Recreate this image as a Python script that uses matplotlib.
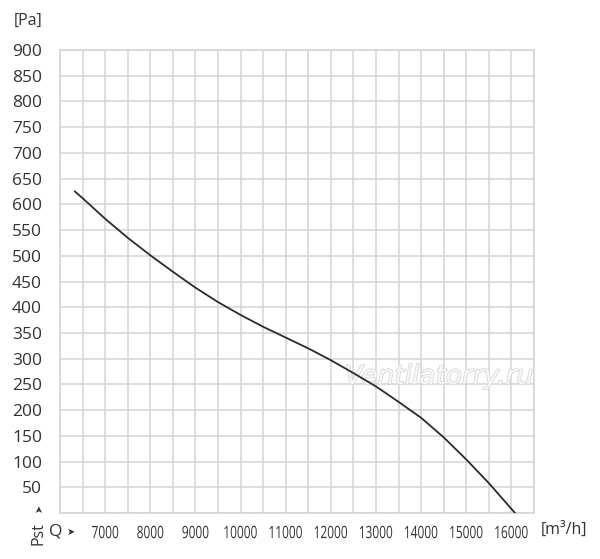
import matplotlib
matplotlib.use('Agg')
import matplotlib.pyplot as plt
import matplotlib.patheffects as pe
from matplotlib.textpath import TextPath
from matplotlib.patches import PathPatch
from matplotlib.font_manager import FontProperties
from matplotlib.transforms import Affine2D

# Точки кривой Pst(Q)
flow = [6330, 6500, 7000, 7500, 8000, 8500, 9000, 9500, 10000, 10500, 11000,
        11500, 12000, 12500, 13000, 13500, 14000, 14500, 15000, 15500, 16000, 16080]
pressure = [625, 612, 572, 535, 501, 469, 438, 410, 385, 362, 341,
            320, 297, 272, 246, 216, 185, 147, 104, 58, 8, 0]

x_labels = [7000, 8000, 9000, 10000, 11000, 12000, 13000, 14000, 15000, 16000]
y_labels = [50, 100, 150, 200, 250, 300, 350, 400, 450, 500,
            550, 600, 650, 700, 750, 800, 850, 900]

TXT = '#333333'
FONT = ['Open Sans', 'DejaVu Sans']


def narrow_label(fig, x, y, s, em=17.0, sx=0.7):
    """Рисует узкую (сжатую по горизонтали) подпись с центром в (x, y) в пикселях."""
    tp = TextPath((0, 0), s, size=em, prop=FontProperties(family='Open Sans'))
    ext = tp.get_extents()
    cx = (ext.x0 + ext.x1) / 2
    cy = (ext.y0 + ext.y1) / 2
    tr = Affine2D().translate(-cx, -cy).scale(sx, 1).translate(x, y)
    patch = PathPatch(tr.transform_path(tp), facecolor=TXT, edgecolor='none',
                      transform=None, figure=fig)
    fig.patches.append(patch)


def main():
    W, H = 600, 559
    fig = plt.figure(figsize=(W / 100, H / 100), dpi=100)
    ax = fig.add_axes([60 / W, 1 - 513 / H, 474 / W, 463 / H])

    grid_c = '#d4d4d4'
    ax.set_xlim(6000, 16500)
    ax.set_ylim(0, 900)

    # Сетка через каждые 500 м3/ч и 50 Па
    xt = list(range(6000, 16501, 500))
    yt = list(range(0, 901, 50))
    ax.set_xticks(xt)
    ax.set_yticks(yt)
    ax.set_xticklabels([])
    ax.set_yticklabels([str(v) if v in y_labels else '' for v in yt],
                       family=FONT, fontsize=12.5, color=TXT)
    ax.tick_params(length=0)
    ax.tick_params(axis='y', pad=13)
    ax.grid(True, color=grid_c, linewidth=1.1)
    ax.set_axisbelow(True)
    for s in ax.spines.values():
        s.set_color(grid_c)
        s.set_linewidth(1.1)

    ax.plot(flow, pressure, color='#2b2b2b', linewidth=1.3, zorder=3)

    # Подписи по оси Q — узким шрифтом, как в оригинале
    y_lab = 559 - 532
    for v in x_labels:
        px, _ = ax.transData.transform((v, 0))
        narrow_label(fig, px, y_lab, str(v))

    # Водяной знак
    ax.text(0.80, 0.294, 'Ventilatorry.ru', transform=ax.transAxes, ha='center', va='center',
            fontsize=19, style='italic', color='#f6f6f6', zorder=2.5,
            path_effects=[pe.withStroke(linewidth=1.2, foreground='#dadada')])

    # Подписи осей
    fig.text(14 / W, 1 - 21 / H, '[Pa]', fontsize=11.5, family=FONT,
             color=TXT, ha='left', va='center')
    fig.text(541 / W, 1 - 530 / H, '[m³/h]', fontsize=11.5, family=FONT,
             color=TXT, ha='left', va='center')
    fig.text(56 / W, 1 - 532 / H, 'Q', fontsize=12.5, family=FONT,
             color=TXT, ha='center', va='center')
    fig.text(71 / W, 1 - 532 / H, '➤', fontsize=7, family='DejaVu Sans',
             color=TXT, ha='center', va='center')
    fig.text(39 / W, 1 - 534 / H, 'Pst', fontsize=11.5, family=FONT,
             color=TXT, ha='center', va='center', rotation=90)
    fig.text(39 / W, 1 - 508 / H, '➤', fontsize=7, family='DejaVu Sans',
             color=TXT, ha='center', va='center', rotation=90)

    fig.savefig('out.png', dpi=100, facecolor='white')


if __name__ == '__main__':
    main()
